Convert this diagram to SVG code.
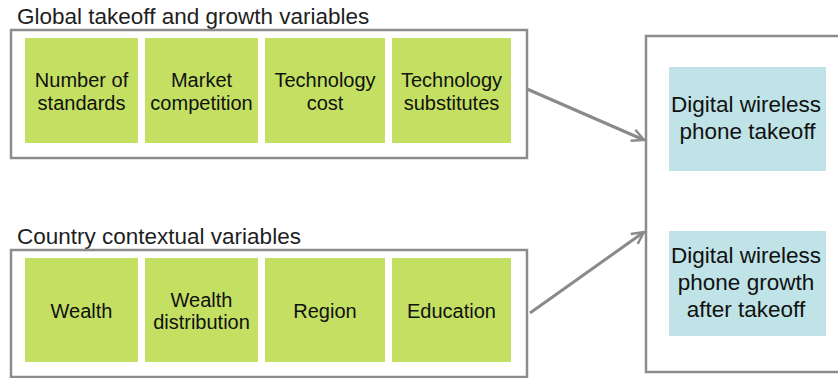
<svg xmlns="http://www.w3.org/2000/svg" width="838" height="378" viewBox="0 0 838 378">
  <style>
    .frame { fill: #ffffff; stroke: #8c8c8c; stroke-width: 2.5; }
    .var { fill: #c4e063; }
    .out { fill: #bfe3e6; }
    .head { font-family: "Liberation Sans", Arial, sans-serif; font-size: 22.5px; fill: #1e1e1e; }
    .lbl { font-family: "Liberation Sans", Arial, sans-serif; font-size: 20px; fill: #111111; text-anchor: middle; }
    .lbl2 { font-family: "Liberation Sans", Arial, sans-serif; font-size: 22.5px; fill: #111111; text-anchor: middle; }
    .link { fill: none; stroke: #8a8a8a; stroke-width: 3; }
  </style>
  <defs>
    <marker id="arrow" viewBox="0 0 10 10" refX="9" refY="5" markerWidth="5" markerHeight="5" orient="auto" markerUnits="strokeWidth">
      <path d="M1,1 L9,5 L1,9" fill="none" stroke="#8a8a8a" stroke-width="1.6"/>
    </marker>
  </defs>
  <rect width="838" height="378" fill="#ffffff"/>

  <!-- Global takeoff and growth variables -->
  <g id="global-group">
    <text class="head" x="17" y="24">Global takeoff and growth variables</text>
    <rect class="frame" x="11" y="30" width="516" height="128"/>
  </g>
  <g id="num-standards">
    <rect class="var" x="25" y="38" width="113" height="105"/>
    <text class="lbl" x="81.5" y="87">Number of</text>
    <text class="lbl" x="81.5" y="110">standards</text>
  </g>
  <g id="market-competition">
    <rect class="var" x="145" y="38" width="113" height="105"/>
    <text class="lbl" x="201.5" y="87">Market</text>
    <text class="lbl" x="201.5" y="110">competition</text>
  </g>
  <g id="technology-cost">
    <rect class="var" x="265" y="38" width="120" height="105"/>
    <text class="lbl" x="325" y="87">Technology</text>
    <text class="lbl" x="325" y="110">cost</text>
  </g>
  <g id="technology-substitutes">
    <rect class="var" x="392" y="38" width="119" height="105"/>
    <text class="lbl" x="451.5" y="87">Technology</text>
    <text class="lbl" x="451.5" y="110">substitutes</text>
  </g>

  <!-- Country contextual variables -->
  <g id="country-group">
    <text class="head" x="17" y="244">Country contextual variables</text>
    <rect class="frame" x="11" y="250" width="516" height="127"/>
  </g>
  <g id="wealth">
    <rect class="var" x="25" y="258" width="113" height="104"/>
    <text class="lbl" x="81.5" y="318">Wealth</text>
  </g>
  <g id="wealth-distribution">
    <rect class="var" x="145" y="258" width="113" height="104"/>
    <text class="lbl" x="201.5" y="307">Wealth</text>
    <text class="lbl" x="201.5" y="329">distribution</text>
  </g>
  <g id="region">
    <rect class="var" x="265" y="258" width="120" height="104"/>
    <text class="lbl" x="325" y="318">Region</text>
  </g>
  <g id="education">
    <rect class="var" x="392" y="258" width="119" height="104"/>
    <text class="lbl" x="451.5" y="318">Education</text>
  </g>

  <!-- Outcomes -->
  <g id="outcomes">
    <rect class="frame" x="646" y="36" width="200" height="336"/>
  </g>
  <g id="takeoff">
    <rect class="out" x="669" y="67" width="157" height="104"/>
    <text class="lbl2" x="746" y="112">Digital wireless</text>
    <text class="lbl2" x="747.5" y="139">phone takeoff</text>
  </g>
  <g id="growth">
    <rect class="out" x="669" y="231" width="157" height="105"/>
    <text class="lbl2" x="746" y="263">Digital wireless</text>
    <text class="lbl2" x="746" y="290">phone growth</text>
    <text class="lbl2" x="746" y="317">after takeoff</text>
  </g>

  <!-- Connectors -->
  <g id="connectors">
    <line class="link" x1="527" y1="89" x2="644" y2="140" marker-end="url(#arrow)"/>
    <line class="link" x1="530" y1="313" x2="644" y2="232" marker-end="url(#arrow)"/>
  </g>
</svg>
